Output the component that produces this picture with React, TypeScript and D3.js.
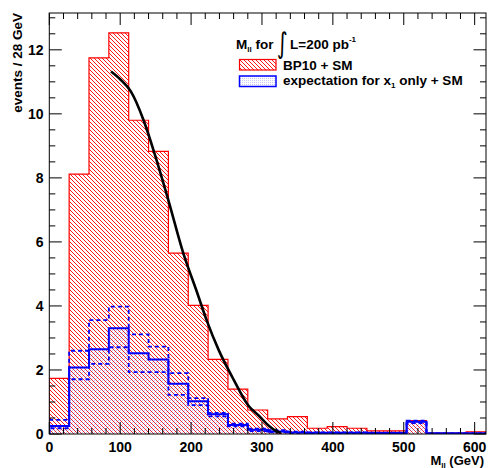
import React from "react";
import * as d3 from "d3";

// ---- data ----
const binWidth = 28; // GeV per bin
const massMax = 616; // 22 bins
const bp10SM = [1.74, 8.12, 11.75, 12.53, 9.8, 8.83, 5.65, 4.02, 2.33, 1.4, 0.75, 0.47, 0.54, 0.18, 0.23, 0.18, 0.1, 0.1, 0.42, 0.03, 0.03, 0.07];
const x1SM = [0.25, 2.08, 2.65, 3.3, 2.52, 2.33, 1.57, 1.02, 0.62, 0.28, 0.13, 0.08, 0.05, 0.04, 0.04, 0.04, 0.03, 0.03, 0.38, 0.02, 0.02, 0.02];
const x1SMUp = [0.44, 2.6, 3.56, 3.98, 3.11, 2.73, 1.9, 1.12, 0.66, 0.32, 0.17, 0.12, 0.07, 0.05, 0.05, 0.05, 0.04, 0.04, 0.42, 0.02, 0.02, 0.02];
const x1SMDown = [0.18, 1.71, 2.19, 2.71, 1.93, 1.93, 1.22, 0.9, 0.55, 0.24, 0.09, 0.05, 0.02, 0.01, 0.01, 0.01, 0.01, 0.01, 0.34, 0, 0, 0];
const fitMass = [87, 100, 115, 133, 150, 168, 189, 208, 222, 239, 260, 281, 297, 310, 320, 327];
const fitEvents = [11.32, 11.08, 10.7, 9.8, 8.65, 7.3, 5.65, 4.45, 3.55, 2.62, 1.7, 0.88, 0.54, 0.25, 0.09, 0.03];
const xTicks = [0, 100, 200, 300, 400, 500, 600];
const yTicks = [0, 2, 4, 6, 8, 10, 12];
const yMax = 13.15;

const W = 488, H = 468;
const L = 49.3, R = 486, T = 13, B = 434;
const FONT = "'Liberation Sans', Arial, Helvetica, sans-serif";

export default function App() {
  const x = d3.scaleLinear().domain([0, massMax]).range([L, R]);
  const y = d3.scaleLinear().domain([0, yMax]).range([B, T]);

  const stepPts = (vals: number[]) => {
    const pts: [number, number][] = [[0, 0]];
    vals.forEach((v, i) => {
      pts.push([i * binWidth, v]);
      pts.push([(i + 1) * binWidth, v]);
    });
    pts.push([vals.length * binWidth, 0]);
    return pts;
  };
  const line = d3.line<[number, number]>().x(d => x(d[0])).y(d => y(d[1]));
  const area = d3.area<[number, number]>().x(d => x(d[0])).y0(y(0)).y1(d => y(d[1]));
  const fitLine = d3.line<number>().x((d, i) => x(fitMass[i])).y(d => y(d)).curve(d3.curveMonotoneX);

  const minorX = d3.range(0, massMax + 0.1, 20);
  const minorY = d3.range(0, yMax, 0.5);

  return (
    <svg width={W} height={H} style={{ position: "absolute", left: 0, top: 0 }} fontFamily={FONT}>
      <defs>
        <pattern id="hatch" patternUnits="userSpaceOnUse" width={4} height={4}>
          <path d="M-1,-1 L5,5 M-1,3 L1,5 M3,-1 L5,1" stroke="#ff0000" strokeWidth={0.9} />
        </pattern>
        <pattern id="dots" patternUnits="userSpaceOnUse" width={2} height={2}>
          <rect x={0} y={0} width={1} height={1} fill="#7070ee" opacity={0.38} />
        </pattern>
        <clipPath id="plot">
          <rect x={L} y={T} width={R - L} height={B - T} />
        </clipPath>
      </defs>
      <rect width={W} height={H} fill="#fff" />
      <g clipPath="url(#plot)">
        <path d={area(stepPts(bp10SM)) ?? ""} fill="url(#hatch)" />
        <path d={line(stepPts(bp10SM)) ?? ""} fill="none" stroke="#ff0000" strokeWidth={1.2} />
        <path d={area(stepPts(x1SM)) ?? ""} fill="url(#dots)" />
        <path d={line(stepPts(x1SMUp)) ?? ""} fill="none" stroke="#0000ff" strokeWidth={1.8} strokeDasharray="4,3" />
        <path d={line(stepPts(x1SMDown)) ?? ""} fill="none" stroke="#0000ff" strokeWidth={1.8} strokeDasharray="4,3" />
        <path d={line(stepPts(x1SM)) ?? ""} fill="none" stroke="#0000ff" strokeWidth={2} />
        <path d={fitLine(fitEvents) ?? ""} fill="none" stroke="#000" strokeWidth={2.6} />
      </g>
      {/* frame */}
      <rect x={L} y={T} width={R - L} height={B - T} fill="none" stroke="#000" strokeWidth={1} />
      {/* x ticks */}
      {minorX.map(v => {
        const major = v % 100 === 0;
        const len = major ? 12 : 6;
        return (
          <g key={"xt" + v}>
            <line x1={x(v)} x2={x(v)} y1={B} y2={B - len} stroke="#000" />
            <line x1={x(v)} x2={x(v)} y1={T} y2={T + len} stroke="#000" />
          </g>
        );
      })}
      {minorY.map(v => {
        const major = v % 2 === 0;
        const len = major ? 12.5 : 6;
        return (
          <g key={"yt" + v}>
            <line x1={L} x2={L + len} y1={y(v)} y2={y(v)} stroke="#000" />
            <line x1={R} x2={R - len} y1={y(v)} y2={y(v)} stroke="#000" />
          </g>
        );
      })}
      {xTicks.map(v => (
        <text key={"xl" + v} x={x(v)} y={451.5} textAnchor="middle" fontSize={14} fontWeight="bold">{v}</text>
      ))}
      {yTicks.map(v => (
        <text key={"yl" + v} x={43.5} y={y(v) + 5} textAnchor="end" fontSize={14} fontWeight="bold">{v}</text>
      ))}
      {/* axis titles */}
      <text transform={`translate(22,13) rotate(-90)`} textAnchor="end" fontSize={13.5} fontWeight="bold">events / 28 GeV</text>
      <text x={484} y={465} textAnchor="end" fontSize={13} fontWeight="bold">
        M<tspan fontSize={8} dy={3}>ll</tspan><tspan dy={-3}> (GeV)</tspan>
      </text>
      {/* legend */}
      <text x={236} y={49.3} fontSize={13.5} fontWeight="bold">
        M<tspan fontSize={8} dy={3}>ll</tspan><tspan dy={-3}> for</tspan>
      </text>
      <text transform="translate(277,53) scale(0.8,1.1)" fontSize={26} fontFamily="'DejaVu Sans', sans-serif">∫</text>
      <text x={290} y={49.3} fontSize={13.5} fontWeight="bold">
        L=200 pb<tspan fontSize={8} dy={-7}>-1</tspan>
      </text>
      <rect x={239.5} y={59.5} width={36.5} height={10.5} fill="url(#hatch)" stroke="#ff0000" strokeWidth={1.2} />
      <text x={283} y={69.5} fontSize={13.5} fontWeight="bold">BP10 + SM</text>
      <rect x={239.5} y={76} width={36.5} height={10.5} fill="url(#dots)" stroke="#0000ff" strokeWidth={1.5} />
      <text x={283} y={84.5} fontSize={13.5} fontWeight="bold">
        expectation for x<tspan fontSize={8} dy={3}>1</tspan><tspan dy={-3}> only + SM</tspan>
      </text>
    </svg>
  );
}
